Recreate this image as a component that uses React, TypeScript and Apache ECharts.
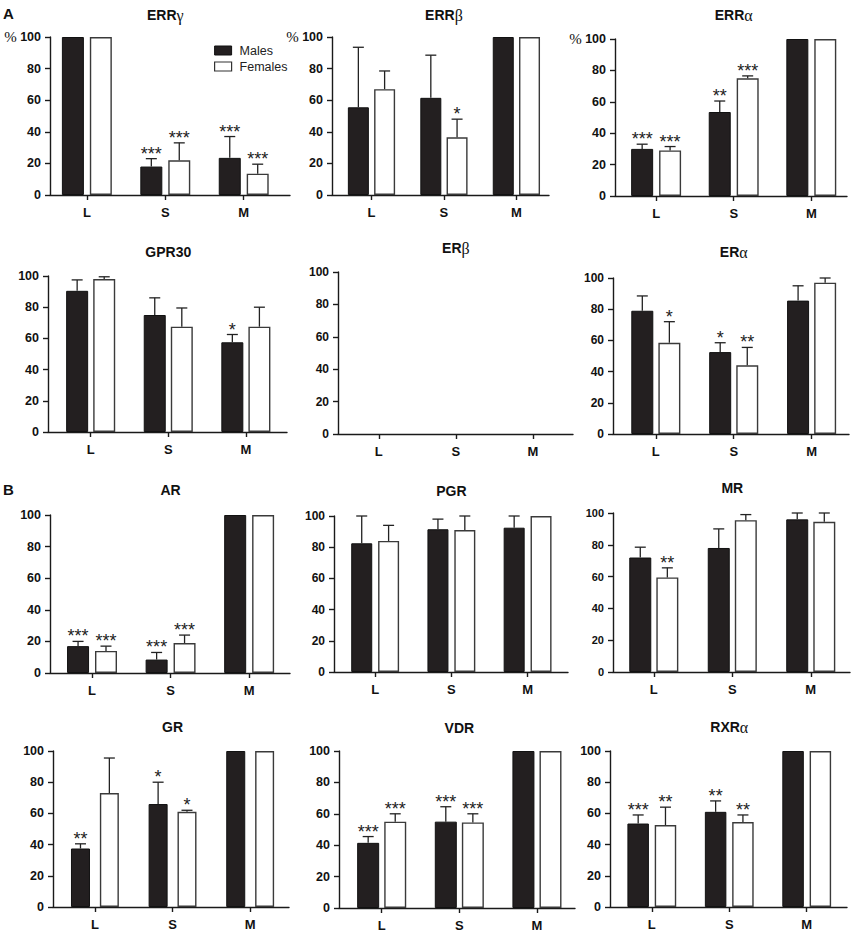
import React, { useEffect, useRef } from 'react';
import * as echarts from 'echarts';

const categories = ['L', 'S', 'M'];

// ---- A: ERRγ ----
const errGammaMales = [100, 18, 23.5];
const errGammaMalesSem = [0, 5, 13.5];
const errGammaFemales = [100, 22, 13.5];
const errGammaFemalesSem = [0, 11, 6];
const errGammaMaleStars = ['', '***', '***'];
const errGammaFemaleStars = ['', '***', '***'];

// ---- ERRβ ----
const errBetaMales = [55.5, 61.5, 100];
const errBetaMalesSem = [38, 27, 0];
const errBetaFemales = [67, 36.5, 100];
const errBetaFemalesSem = [11.5, 11.5, 0];
const errBetaMaleStars = ['', '', ''];
const errBetaFemaleStars = ['', '*', ''];

// ---- ERRα ----
const errAlphaMales = [30, 53.5, 100];
const errAlphaMalesSem = [3, 7, 0];
const errAlphaFemales = [29, 75, 100];
const errAlphaFemalesSem = [2.5, 1.5, 0];
const errAlphaMaleStars = ['***', '**', ''];
const errAlphaFemaleStars = ['***', '***', ''];

// ---- GPR30 ----
const gpr30Males = [90.5, 75, 57.5];
const gpr30MalesSem = [7, 11, 5];
const gpr30Females = [98, 67.5, 67.5];
const gpr30FemalesSem = [1.5, 12, 12.5];
const gpr30MaleStars = ['', '', '*'];
const gpr30FemaleStars = ['', '', ''];

// ---- ERβ (no expression) ----
const erBetaMales: number[] = [];
const erBetaMalesSem: number[] = [];
const erBetaFemales: number[] = [];
const erBetaFemalesSem: number[] = [];
const erBetaMaleStars: string[] = [];
const erBetaFemaleStars: string[] = [];

// ---- ERα ----
const erAlphaMales = [79, 52.5, 85.5];
const erAlphaMalesSem = [9.5, 6, 9.5];
const erAlphaFemales = [58.5, 44, 97];
const erAlphaFemalesSem = [13.5, 11.5, 3];
const erAlphaMaleStars = ['', '*', ''];
const erAlphaFemaleStars = ['*', '**', ''];

// ---- B: AR ----
const arMales = [17, 8.5, 100];
const arMalesSem = [3, 4.5, 0];
const arFemales = [14, 19, 100];
const arFemalesSem = [3, 5, 0];
const arMaleStars = ['***', '***', ''];
const arFemaleStars = ['***', '***', ''];

// ---- PGR ----
const pgrMales = [82.5, 91.5, 92.5];
const pgrMalesSem = [17.5, 6.5, 7.5];
const pgrFemales = [84, 91, 100];
const pgrFemalesSem = [10, 9, 0];
const pgrMaleStars = ['', '', ''];
const pgrFemaleStars = ['', '', ''];

// ---- MR ----
const mrMales = [72, 78, 96];
const mrMalesSem = [6.5, 12, 4];
const mrFemales = [59.5, 95.5, 94.5];
const mrFemalesSem = [6, 3.5, 5.5];
const mrMaleStars = ['', '', ''];
const mrFemaleStars = ['**', '', ''];

// ---- GR ----
const grMales = [37.5, 66, 100];
const grMalesSem = [3, 14, 0];
const grFemales = [73, 61, 100];
const grFemalesSem = [22.5, 1, 0];
const grMaleStars = ['**', '*', ''];
const grFemaleStars = ['', '*', ''];

// ---- VDR ----
const vdrMales = [41.5, 55, 100];
const vdrMalesSem = [4, 9.5, 0];
const vdrFemales = [55, 54.5, 100];
const vdrFemalesSem = [5, 5.5, 0];
const vdrMaleStars = ['***', '***', ''];
const vdrFemaleStars = ['***', '***', ''];

// ---- RXRα ----
const rxrMales = [53.5, 61, 100];
const rxrMalesSem = [5.5, 7, 0];
const rxrFemales = [52.5, 54.5, 100];
const rxrFemalesSem = [11.5, 4.5, 0];
const rxrMaleStars = ['***', '**', ''];
const rxrFemaleStars = ['**', '**', ''];

const yTicks = [0, 20, 40, 60, 80, 100];

const panels = [
  { name: 'ERRγ', m: errGammaMales, me: errGammaMalesSem, f: errGammaFemales, fe: errGammaFemalesSem, ms: errGammaMaleStars, fs: errGammaFemaleStars },
  { name: 'ERRβ', m: errBetaMales, me: errBetaMalesSem, f: errBetaFemales, fe: errBetaFemalesSem, ms: errBetaMaleStars, fs: errBetaFemaleStars },
  { name: 'ERRα', m: errAlphaMales, me: errAlphaMalesSem, f: errAlphaFemales, fe: errAlphaFemalesSem, ms: errAlphaMaleStars, fs: errAlphaFemaleStars },
  { name: 'GPR30', m: gpr30Males, me: gpr30MalesSem, f: gpr30Females, fe: gpr30FemalesSem, ms: gpr30MaleStars, fs: gpr30FemaleStars },
  { name: 'ERβ', m: erBetaMales, me: erBetaMalesSem, f: erBetaFemales, fe: erBetaFemalesSem, ms: erBetaMaleStars, fs: erBetaFemaleStars },
  { name: 'ERα', m: erAlphaMales, me: erAlphaMalesSem, f: erAlphaFemales, fe: erAlphaFemalesSem, ms: erAlphaMaleStars, fs: erAlphaFemaleStars },
  { name: 'AR', m: arMales, me: arMalesSem, f: arFemales, fe: arFemalesSem, ms: arMaleStars, fs: arFemaleStars },
  { name: 'PGR', m: pgrMales, me: pgrMalesSem, f: pgrFemales, fe: pgrFemalesSem, ms: pgrMaleStars, fs: pgrFemaleStars },
  { name: 'MR', m: mrMales, me: mrMalesSem, f: mrFemales, fe: mrFemalesSem, ms: mrMaleStars, fs: mrFemaleStars },
  { name: 'GR', m: grMales, me: grMalesSem, f: grFemales, fe: grFemalesSem, ms: grMaleStars, fs: grFemaleStars },
  { name: 'VDR', m: vdrMales, me: vdrMalesSem, f: vdrFemales, fe: vdrFemalesSem, ms: vdrMaleStars, fs: vdrFemaleStars },
  { name: 'RXRα', m: rxrMales, me: rxrMalesSem, f: rxrFemales, fe: rxrFemalesSem, ms: rxrMaleStars, fs: rxrFemaleStars },
];

// layout (pixels): y-axis x, x-axis right end, y of 100, y of 0, padding before L / after M (in category units), bar width, gap ratio
const layout = [
  { left: 50, right: 290, top: 37, bottom: 195, a: 0.47, b: 0.59, bw: 22, gap: 0.27, pct: true, titleY: 15, lab: 12.5 },
  { left: 332, right: 549, top: 37, bottom: 195, a: 0.545, b: 0.45, bw: 21, gap: 0.25, pct: true, titleY: 15, lab: 12.5 },
  { left: 615, right: 847, top: 39, bottom: 196, a: 0.53, b: 0.46, bw: 22, gap: 0.27, pct: true, titleY: 15, lab: 12.5 },
  { left: 48, right: 287, top: 276, bottom: 432, a: 0.55, b: 0.53, bw: 22, gap: 0.23, pct: false, titleY: 252, lab: 12.5 },
  { left: 338, right: 573, top: 272, bottom: 434, a: 0.53, b: 0.52, bw: 22, gap: 0.23, pct: false, titleY: 248, lab: 12 },
  { left: 613, right: 849, top: 278, bottom: 434, a: 0.55, b: 0.48, bw: 22, gap: 0.23, pct: false, titleY: 252, lab: 12 },
  { left: 50, right: 290, top: 515, bottom: 673, a: 0.535, b: 0.52, bw: 22, gap: 0.27, pct: false, titleY: 490, lab: 12.5 },
  { left: 334, right: 568, top: 516, bottom: 672, a: 0.54, b: 0.53, bw: 21, gap: 0.28, pct: false, titleY: 491, lab: 12 },
  { left: 613, right: 850, top: 513, bottom: 672, a: 0.52, b: 0.5, bw: 22, gap: 0.23, pct: false, titleY: 488, lab: 11 },
  { left: 53, right: 289, top: 751, bottom: 907, a: 0.54, b: 0.5, bw: 19, gap: 0.52, pct: false, titleY: 727, lab: 12.5 },
  { left: 339, right: 575, top: 751, bottom: 908, a: 0.55, b: 0.49, bw: 22, gap: 0.23, pct: false, titleY: 728, lab: 12.5 },
  { left: 610, right: 847, top: 751, bottom: 907, a: 0.54, b: 0.52, bw: 21.5, gap: 0.27, pct: false, titleY: 727, lab: 12.5 },
];

const SANS = '"Liberation Sans", Arial, Helvetica, sans-serif';
const SERIF = '"Liberation Serif", "Times New Roman", serif';
const INK = '#1a1a1a';
const CAP = 11;

function errSeries(i: number, means: number[], errs: number[], stars: string[], sign: number, lay: any) {
  const offset = (sign * (lay.bw + lay.bw * lay.gap)) / 2;
  return {
    type: 'custom',
    xAxisIndex: i,
    yAxisIndex: i,
    z: 5,
    clip: false,
    silent: true,
    itemStyle: { color: '#222222' },
    encode: { x: 0, y: 1 },
    data: means.map((v, k) => [k, v + errs[k]]),
    renderItem: (params: any, api: any) => {
      const k = params.dataIndex;
      const base = api.coord([k, means[k]]);
      const top = api.coord([k, means[k] + errs[k]]);
      const x = base[0] + offset;
      const children: any[] = [];
      if (errs[k] > 0) {
        children.push({ type: 'line', shape: { x1: x, y1: base[1], x2: x, y2: top[1] }, style: { stroke: '#222222', lineWidth: 1.3 } });
        children.push({ type: 'line', shape: { x1: x - CAP / 2, y1: top[1], x2: x + CAP / 2, y2: top[1] }, style: { stroke: '#222222', lineWidth: 1.3 } });
      }
      if (stars[k]) {
        children.push({
          type: 'text',
          x,
          y: top[1] - 5,
          style: { text: stars[k], align: 'center', verticalAlign: 'middle', fontSize: 18, fontFamily: SANS, fill: '#222222' },
        });
      }
      return { type: 'group', children };
    },
  };
}

function titleText(name: string) {
  const m = name.match(/^(.*?)([α-ω])$/);
  if (m) return `{n|${m[1]}}{g|${m[2]}}`;
  return `{n|${name}}`;
}

export default function App() {
  const ref = useRef<HTMLDivElement>(null);
  useEffect(() => {
    if (!ref.current) return;
    const chart = echarts.init(ref.current, undefined, { renderer: 'svg' });

    const grid = layout.map((l) => ({ left: l.left, top: l.top, width: l.right - l.left, height: l.bottom - l.top, containLabel: false }));
    const xAxis = layout.map((l, i) => ({
      gridIndex: i,
      type: 'value',
      min: -l.a,
      max: 2 + l.b,
      axisLine: { show: true, onZero: false, lineStyle: { color: INK, width: 1.4 } },
      axisTick: { show: true, customValues: [0, 1, 2], length: 5, lineStyle: { color: INK, width: 1.4 } },
      axisLabel: {
        customValues: [0, 1, 2],
        formatter: (v: number) => categories[Math.round(v)] ?? '',
        fontFamily: SANS,
        fontWeight: 'bold',
        fontSize: 13,
        color: '#111',
        margin: 11,
      },
      splitLine: { show: false },
    }));
    const yAxis = layout.map((l, i) => ({
      gridIndex: i,
      type: 'value',
      min: 0,
      max: 100,
      interval: 20,
      axisLine: { show: true, onZero: false, lineStyle: { color: INK, width: 1.4 } },
      axisTick: { show: true, length: 5, lineStyle: { color: INK, width: 1.4 } },
      axisLabel: {
        formatter: (v: number) => (l.pct && v === yTicks[yTicks.length - 1] ? `{p|%} ${v}` : `${v}`),
        fontFamily: SANS,
        fontWeight: 'bold',
        fontSize: l.lab,
        color: '#111',
        margin: 9,
        rich: { p: { fontFamily: SERIF, fontSize: 15, fontWeight: 'normal', color: '#111' } },
      },
      splitLine: { show: false },
    }));

    const series: any[] = [];
    panels.forEach((p, i) => {
      const l = layout[i];
      if (!p.m.length) return;
      series.push({
        name: 'Males',
        type: 'bar',
        xAxisIndex: i,
        yAxisIndex: i,
        barWidth: l.bw,
        barGap: `${l.gap * 100}%`,
        data: p.m.map((v, k) => [k, v]),
        itemStyle: { color: '#231f20', borderColor: '#111', borderWidth: 1 },
        silent: true,
      });
      series.push({
        name: 'Females',
        type: 'bar',
        xAxisIndex: i,
        yAxisIndex: i,
        barWidth: l.bw,
        barGap: `${l.gap * 100}%`,
        data: p.f.map((v, k) => [k, v]),
        itemStyle: { color: '#ffffff', borderColor: '#3a3a3a', borderWidth: 1.4 },
        silent: true,
      });
      series.push(errSeries(i, p.m, p.me, p.ms, -1, l));
      series.push(errSeries(i, p.f, p.fe, p.fs, 1, l));
    });

    const graphic: any[] = panels.map((p, i) => {
      const l = layout[i];
      const span = 2 + l.a + l.b;
      const cx = l.left + ((l.a + 1) / span) * (l.right - l.left);
      return {
        type: 'text',
        x: cx,
        y: l.titleY,
        silent: true,
        style: {
          text: titleText(p.name),
          align: 'center',
          verticalAlign: 'middle',
          fill: '#111',
          rich: {
            n: { fontFamily: SANS, fontWeight: 'bold', fontSize: 14, fill: '#111' },
            g: { fontFamily: SERIF, fontWeight: 'normal', fontSize: 16, fill: '#111' },
          },
        },
      };
    });
    graphic.push({ type: 'text', x: 3, y: 13, silent: true, style: { text: 'A', fontFamily: SANS, fontWeight: 'bold', fontSize: 15, fill: '#111', verticalAlign: 'middle' } });
    graphic.push({ type: 'text', x: 3, y: 489, silent: true, style: { text: 'B', fontFamily: SANS, fontWeight: 'bold', fontSize: 15, fill: '#111', verticalAlign: 'middle' } });

    chart.setOption({
      animation: false,
      backgroundColor: '#ffffff',
      grid,
      xAxis,
      yAxis,
      series,
      graphic,
      legend: {
        show: true,
        orient: 'vertical',
        left: 214,
        top: 44,
        padding: 0,
        itemWidth: 17,
        itemHeight: 9,
        itemGap: 3,
        selectedMode: false,
        icon: 'rect',
        textStyle: { fontFamily: SANS, fontSize: 12.5, color: '#222', padding: [0, 0, 0, 3] },
        data: [
          { name: 'Males', itemStyle: { color: '#231f20', borderColor: '#111', borderWidth: 1 } },
          { name: 'Females', itemStyle: { color: '#ffffff', borderColor: '#333', borderWidth: 1.2 } },
        ],
      },
    });
    return () => chart.dispose();
  }, []);

  return <div ref={ref} style={{ position: 'fixed', left: 0, top: 0, width: 855, height: 933, background: '#fff' }} />;
}
